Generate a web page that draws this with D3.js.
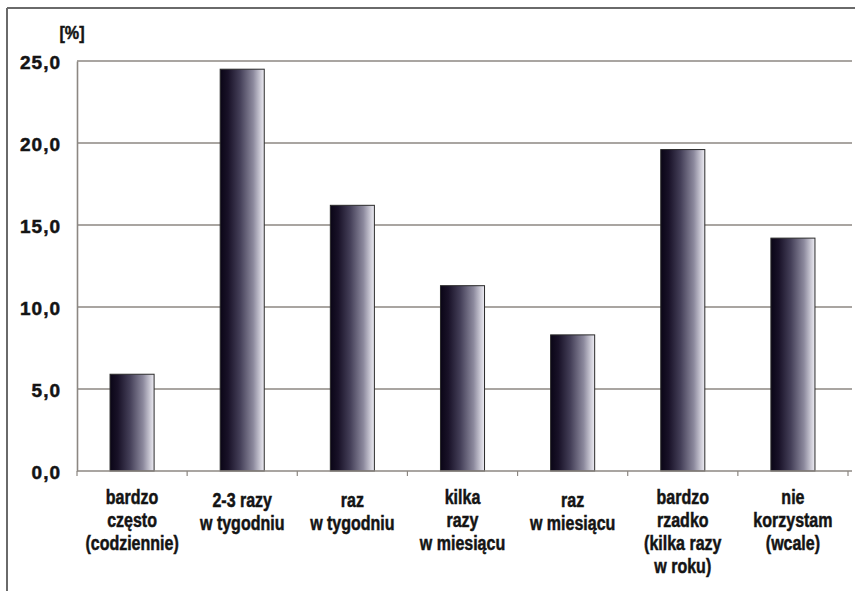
<!DOCTYPE html>
<html><head><meta charset="utf-8">
<script src="https://cdn.jsdelivr.net/npm/d3@7/dist/d3.min.js"></script>
<style>
html,body{margin:0;padding:0;background:#fff;}
text{font-family:"Liberation Sans",Arial,sans-serif;font-weight:bold;fill:#141414;stroke:#141414;stroke-width:0.5px;}
</style></head>
<body>
<svg id="chart" width="855" height="591"></svg>
<script>
const categories = [
  ["bardzo","często","(codziennie)"],
  ["2-3 razy","w tygodniu"],
  ["raz","w tygodniu"],
  ["kilka","razy","w miesiącu"],
  ["raz","w miesiącu"],
  ["bardzo","rzadko","(kilka razy","w roku)"],
  ["nie","korzystam","(wcale)"]
];
const values = [5.9, 24.5, 16.2, 11.3, 8.3, 19.6, 14.2];
const yTicks = [0, 5, 10, 15, 20, 25];
const yUnit = "[%]";

const svg = d3.select("#chart");
const W = 855, H = 591;
const mLeft = 77, mRight = 848, mTop = 61, mBottom = 471;
const keys = categories.map(c => c.join(" "));

const x = d3.scaleBand().domain(keys).range([mLeft, mRight]).paddingInner(0.6).paddingOuter(0.3);
const y = d3.scaleLinear().domain([0, 25]).range([mBottom, mTop]);

// frame
svg.append("line").attr("x1",7).attr("x2",W).attr("y1",8).attr("y2",8).attr("stroke","#6a6a6a").attr("stroke-width",2);
svg.append("line").attr("x1",7).attr("x2",7).attr("y1",8).attr("y2",H).attr("stroke","#6a6a6a").attr("stroke-width",2);

const defs = svg.append("defs");
const g = defs.append("linearGradient").attr("id","barGrad").attr("x1","0").attr("x2","1").attr("y1","0").attr("y2","0");
[[0,"#0a0516"],[0.18,"#191228"],[0.45,"#443f58"],[0.75,"#8c899d"],[1,"#eeedf4"]].forEach(s=>{
  g.append("stop").attr("offset",s[0]).attr("stop-color",s[1]);
});

// gridlines
svg.append("g").selectAll("line").data(yTicks.filter(t=>t>0)).join("line")
  .attr("x1",mLeft).attr("x2",852).attr("y1",d=>y(d)).attr("y2",d=>y(d))
  .attr("stroke","#8c8782").attr("stroke-width",1.6);

// y axis
const yAxis = d3.axisLeft(y).tickValues(yTicks).tickSize(0).tickPadding(16)
  .tickFormat(d => d3.format(".1f")(d).replace(".", ","));
const ya = svg.append("g").attr("transform",`translate(${mLeft},0)`).call(yAxis);
ya.attr("font-family",null).attr("font-size",null);
ya.select(".domain").attr("stroke","#8c8782").attr("stroke-width",1.6);
ya.selectAll("text").attr("font-size",19).attr("dy","0.42em").style("letter-spacing","1px");

svg.append("text").attr("x",72).attr("y",39).attr("text-anchor","middle").attr("font-size",19)
  .attr("transform","translate(72,0) scale(0.85,1) translate(-72,0)").text(yUnit);

// bars
svg.append("g").selectAll("rect").data(values).join("rect")
  .attr("x",(d,i)=>x(keys[i])).attr("width",x.bandwidth())
  .attr("y",d=>y(d)).attr("height",d=>y(0)-y(d))
  .attr("fill","url(#barGrad)").attr("stroke","#2a2a2a").attr("stroke-width",1);

// baseline and boundary ticks
svg.append("line").attr("x1",mLeft).attr("x2",852).attr("y1",y(0)).attr("y2",y(0)).attr("stroke","#8c8782").attr("stroke-width",1.6);
const bounds = d3.range(keys.length + 1).map(i => mLeft + i * x.step());
svg.append("g").selectAll("line").data(bounds).join("line")
  .attr("x1",d=>d).attr("x2",d=>d).attr("y1",y(0)).attr("y2",y(0)+5)
  .attr("stroke","#8c8782").attr("stroke-width",1.2);

// category labels
const lab = svg.append("g").selectAll("text").data(categories).join("text")
  .attr("text-anchor","middle").attr("font-size",20)
  .attr("transform",(d,i)=>`translate(${x(keys[i]) + x.bandwidth()/2},${d.length===2 ? 507 : 504}) scale(0.8,1)`);
lab.selectAll("tspan").data(d=>d).join("tspan").attr("x",0).attr("dy",(d,i)=>i===0?0:23).text(d=>d);
</script>
</body></html>
